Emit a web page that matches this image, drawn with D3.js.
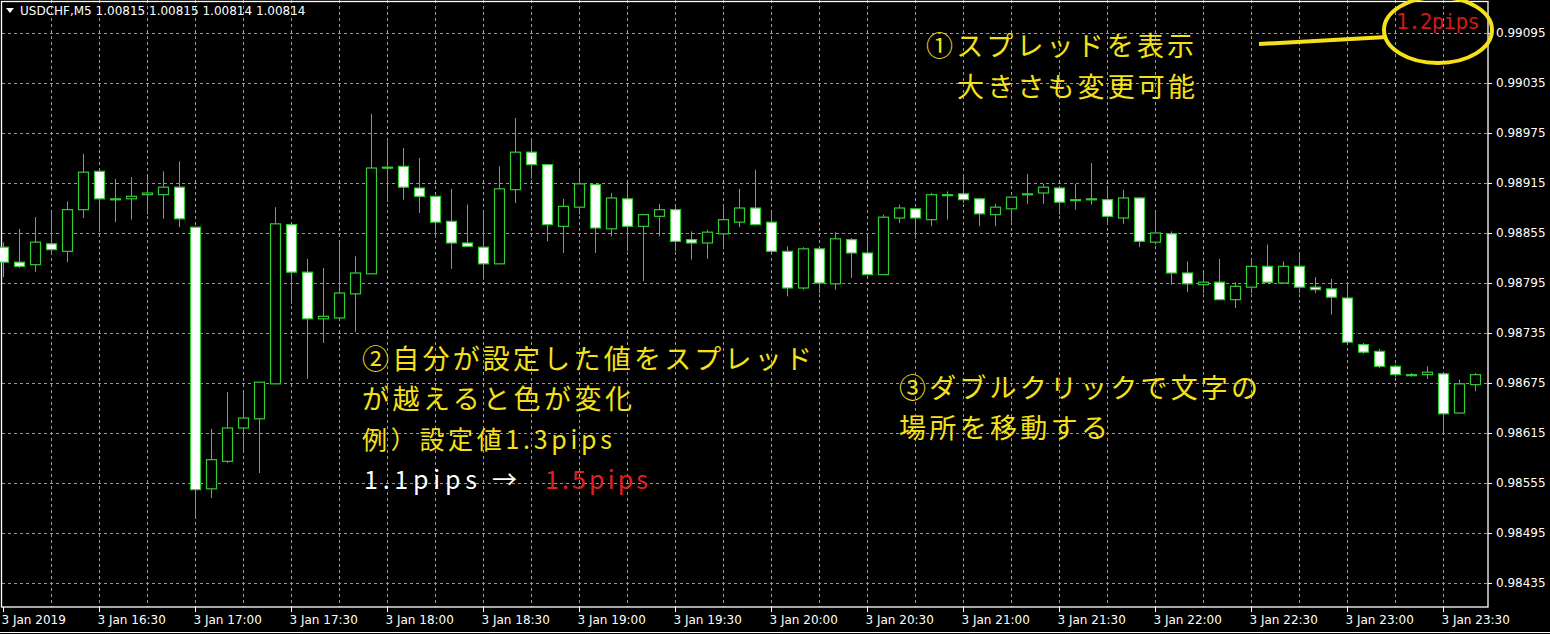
<!DOCTYPE html>
<html><head><meta charset="utf-8">
<script src="https://cdn.jsdelivr.net/npm/d3@7"></script>
<style>body{margin:0;background:#000;overflow:hidden}</style>
</head><body>
<svg id="c" width="1550" height="634"></svg>
<script>
const opens=[0.98838,0.98820,0.98817,0.98842,0.98833,0.98883,0.98929,0.98896,0.98896,0.98901,0.98901,0.98910,0.98862,0.98548,0.98581,0.98621,0.98632,0.98674,0.98865,0.98808,0.98752,0.98753,0.98782,0.98806,0.98934,0.98935,0.98909,0.98899,0.98869,0.98843,0.98838,0.98818,0.98907,0.98952,0.98937,0.98863,0.98886,0.98913,0.98860,0.98896,0.98863,0.98875,0.98883,0.98847,0.98843,0.98854,0.98868,0.98885,0.98868,0.98833,0.98789,0.98836,0.98794,0.98847,0.98831,0.98805,0.98873,0.98884,0.98871,0.98901,0.98902,0.98896,0.98877,0.98884,0.98902,0.98903,0.98909,0.98895,0.98896,0.98895,0.98873,0.98897,0.98844,0.98854,0.98807,0.98793,0.98796,0.98775,0.98790,0.98815,0.98795,0.98815,0.98790,0.98788,0.98777,0.98721,0.98713,0.98695,0.98685,0.98685,0.98686,0.98639,0.98673];
const highs=[0.98844,0.98860,0.98874,0.98880,0.98893,0.98950,0.98929,0.98920,0.98922,0.98923,0.98929,0.98941,0.98862,0.98620,0.98664,0.98664,0.98676,0.98886,0.98865,0.98824,0.98813,0.98843,0.98827,0.98998,0.98965,0.98957,0.98945,0.98899,0.98908,0.98889,0.98880,0.98935,0.98993,0.98969,0.98937,0.98896,0.98933,0.98913,0.98903,0.98915,0.98877,0.98890,0.98886,0.98857,0.98859,0.98886,0.98908,0.98931,0.98880,0.98839,0.98838,0.98836,0.98856,0.98849,0.98851,0.98877,0.98889,0.98884,0.98903,0.98905,0.98925,0.98896,0.98890,0.98898,0.98926,0.98914,0.98909,0.98914,0.98939,0.98909,0.98907,0.98898,0.98880,0.98857,0.98821,0.98807,0.98824,0.98796,0.98823,0.98841,0.98821,0.98829,0.98802,0.98800,0.98793,0.98723,0.98716,0.98697,0.98687,0.98695,0.98686,0.98679,0.98687];
const lows=[0.98802,0.98813,0.98808,0.98831,0.98820,0.98873,0.98856,0.98868,0.98871,0.98877,0.98872,0.98862,0.98515,0.98537,0.98579,0.98593,0.98567,0.98674,0.98770,0.98680,0.98723,0.98753,0.98736,0.98806,0.98892,0.98895,0.98879,0.98849,0.98812,0.98839,0.98799,0.98818,0.98891,0.98920,0.98845,0.98831,0.98877,0.98831,0.98851,0.98833,0.98797,0.98851,0.98833,0.98823,0.98824,0.98839,0.98862,0.98865,0.98833,0.98779,0.98787,0.98783,0.98787,0.98801,0.98805,0.98805,0.98867,0.98848,0.98863,0.98871,0.98891,0.98863,0.98863,0.98869,0.98890,0.98890,0.98877,0.98883,0.98889,0.98865,0.98866,0.98838,0.98841,0.98793,0.98784,0.98783,0.98775,0.98765,0.98783,0.98796,0.98794,0.98783,0.98783,0.98757,0.98724,0.98710,0.98693,0.98682,0.98683,0.98680,0.98616,0.98639,0.98665];
const closes=[0.98820,0.98815,0.98844,0.98835,0.98883,0.98928,0.98896,0.98896,0.98899,0.98903,0.98910,0.98872,0.98547,0.98583,0.98621,0.98633,0.98676,0.98866,0.98808,0.98752,0.98755,0.98783,0.98807,0.98933,0.98934,0.98910,0.98899,0.98868,0.98843,0.98839,0.98818,0.98908,0.98952,0.98937,0.98865,0.98887,0.98914,0.98861,0.98897,0.98863,0.98877,0.98883,0.98845,0.98843,0.98856,0.98871,0.98885,0.98865,0.98833,0.98789,0.98836,0.98795,0.98848,0.98831,0.98805,0.98874,0.98885,0.98873,0.98901,0.98901,0.98895,0.98878,0.98886,0.98898,0.98902,0.98910,0.98892,0.98895,0.98896,0.98875,0.98897,0.98845,0.98855,0.98807,0.98794,0.98796,0.98775,0.98791,0.98815,0.98796,0.98815,0.98790,0.98787,0.98778,0.98724,0.98712,0.98695,0.98685,0.98684,0.98688,0.98638,0.98674,0.98685];
const priceTicks=[0.99095,0.99035,0.98975,0.98915,0.98855,0.98795,0.98735,0.98675,0.98615,0.98555,0.98495,0.98435];
const timeLabels=["3 Jan 2019","3 Jan 16:30","3 Jan 17:00","3 Jan 17:30","3 Jan 18:00","3 Jan 18:30","3 Jan 19:00","3 Jan 19:30","3 Jan 20:00","3 Jan 20:30","3 Jan 21:00","3 Jan 21:30","3 Jan 22:00","3 Jan 22:30","3 Jan 23:00","3 Jan 23:30"];
const timeLabelIdx=[0,6,12,18,24,30,36,42,48,54,60,66,72,78,84,90];

const svg=d3.select("#c");
const W=1488,B=607;
const y=d3.scaleLinear().domain([0.984086,0.991346]).range([605,0]);
const x=d3.scaleLinear().domain([0,92]).range([3,1475]);
const g=svg.append("g");
const gridX=d3.range(3,93,3);
g.selectAll(".gx").data(gridX).join("line").attr("x1",d=>Math.round(x(d))+0.5).attr("x2",d=>Math.round(x(d))+0.5)
 .attr("y1",0).attr("y2",B).attr("stroke","#9a9a9a").attr("stroke-dasharray","3,3").attr("stroke-width",1);
g.selectAll(".gy").data(priceTicks).join("line").attr("x1",2).attr("x2",W).attr("y1",d=>Math.round(y(d))+0.5).attr("y2",d=>Math.round(y(d))+0.5)
 .attr("stroke","#9a9a9a").attr("stroke-dasharray","3,3").attr("stroke-width",1);
svg.append("rect").attr("x",1.5).attr("y",1.5).attr("width",W-1.5).attr("height",B-1.5).attr("fill","none").attr("stroke","#fff").attr("stroke-width",1.3);
svg.append("line").attr("x1",0).attr("x2",1550).attr("y1",632.5).attr("y2",632.5).attr("stroke","#fff");
const ra=svg.append("g").attr("transform",`translate(${W},0)`).call(d3.axisRight(y).tickValues(priceTicks).tickFormat(d3.format(".5f")).tickSize(4).tickPadding(4));
ra.select(".domain").remove();
ra.selectAll("line").attr("stroke","#fff");
ra.selectAll("text").attr("fill","#fff").style("font","12px 'DejaVu Sans', sans-serif");
const ba=svg.append("g").attr("transform",`translate(0,${B})`).call(d3.axisBottom(x).tickValues(timeLabelIdx).tickFormat((d,i)=>timeLabels[i]).tickSize(5).tickPadding(3));
ba.select(".domain").remove();
ba.selectAll("line").attr("stroke","#fff");
ba.selectAll("text").attr("fill","#fff").attr("text-anchor","start").attr("dx",-2).style("font","12px 'DejaVu Sans', sans-serif");
const data=opens.map((o,i)=>({i,o,h:highs[i],l:lows[i],c:closes[i]}));
const cg=svg.append("g");
cg.selectAll(".w").data(data).join("line").attr("x1",d=>Math.round(x(d.i))+0.5).attr("x2",d=>Math.round(x(d.i))+0.5)
 .attr("y1",d=>y(d.h)).attr("y2",d=>y(d.l)).attr("stroke","#33cc33").attr("stroke-width",1);
cg.selectAll(".b").data(data).join("rect")
 .attr("x",d=>Math.round(x(d.i))-4.5).attr("width",10)
 .attr("y",d=>y(Math.max(d.o,d.c))).attr("height",d=>Math.max(1,Math.abs(y(d.o)-y(d.c))))
 .attr("fill",d=>d.c<d.o?"#ffffff":(d.c===d.o?"#33cc33":"#000"))
 .attr("stroke","#33cc33").attr("stroke-width",1.2);
svg.append("path").attr("d","M6,8 L14,8 L10,13 Z").attr("fill","#fff");
svg.append("text").attr("x",20).attr("y",15).attr("fill","#fff").style("font","12px 'DejaVu Sans', sans-serif").text("USDCHF,M5  1.00815 1.00815 1.00814 1.00814");
// annotations: text, x, baseline, colour, width, size
const ann=[["①スプレッドを表示",926,56,"#f5e11a",268,27],["大きさも変更可能",957,97,"#f5e11a",238,27],
 ["②自分が設定した値をスプレッド",362,369,"#f5e11a",450,27],["が越えると色が変化",362,409,"#f5e11a",270,27],
 ["例）設定値1.3pips",362,449,"#f5e11a",250,25],["1.1pips →",364,489,"#ffffff",153,25],["1.5pips",545,489,"#e02020",103,25],
 ["③ダブルクリックで文字の",899,398,"#f5e11a",359,27],["場所を移動する",899,438,"#f5e11a",209,27]];
svg.selectAll(".ann").data(ann).join("text").attr("x",d=>d[1]).attr("y",d=>d[2]).attr("fill",d=>d[3])
 .attr("textLength",d=>d[4]).attr("lengthAdjust","spacing")
 .style("font",d=>`${d[5]}px 'Noto Sans CJK JP', sans-serif`).text(d=>d[0]);
svg.append("text").attr("x",1396).attr("y",29).attr("fill","#d01818").attr("textLength",84).attr("lengthAdjust","spacing").style("font","21px 'DejaVu Sans Mono', monospace").text("1.2pips");
svg.append("ellipse").attr("cx",1438).attr("cy",30).attr("rx",54).attr("ry",33).attr("fill","none").attr("stroke","#f5e11a").attr("stroke-width",4);
svg.append("path").attr("d","M1259,44 L1387,37").attr("stroke","#f5e11a").attr("stroke-width",4).attr("fill","none");
</script>
</body></html>
